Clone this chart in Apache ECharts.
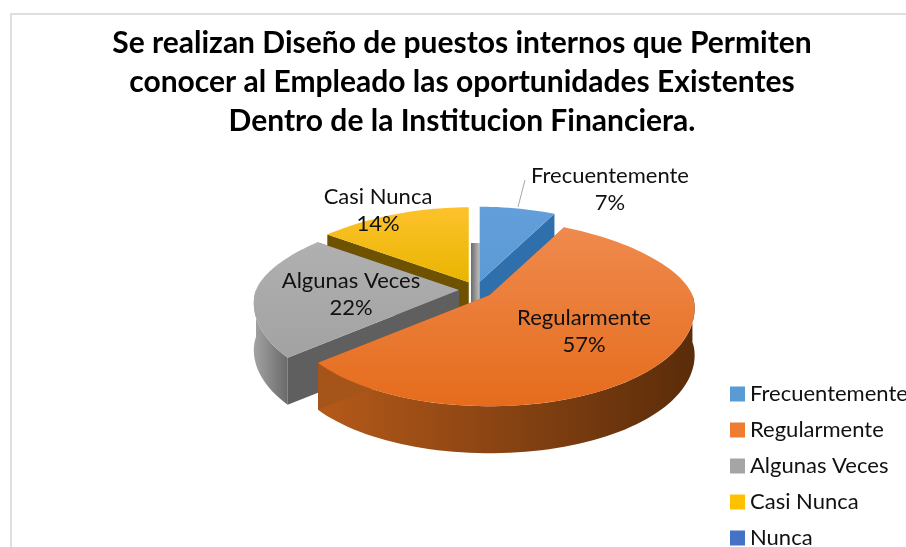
<!DOCTYPE html>
<html>
<head>
<meta charset="utf-8">
<style>
  html, body { margin: 0; padding: 0; background: #fff; overflow: hidden; }
  #chart { width: 906px; height: 547px; }
</style>
<script src="https://cdn.jsdelivr.net/npm/echarts@6/dist/echarts.min.js"></script>
</head>
<body>
<div id="chart"></div>
<script>
  const categories = ['Frecuentemente', 'Regularmente', 'Algunas Veces', 'Casi Nunca', 'Nunca']
  const values = [7, 57, 22, 14, 0]
  const legendColors = ['#5b9bd5', '#ed7d31', '#a5a5a5', '#ffc000', '#4472c4']
  const titleText = 'Se realizan Diseño de puestos internos que Permiten\nconocer al Empleado las oportunidades Existentes\nDentro de la Institucion Financiera.'

  const fontName = 'Lato'
  const center = [476, 290]
  const radiusX = 203, radiusBack = 75, radiusFront = 111
  const perspective = 0.15
  const depth = 47
  const explode = 17

  // top, cut face and outer wall colours of each slice
  const topFill = [['#639fda', '#5a9ad6'], ['#ef8a4e', '#e56c1c'], ['#b0b0b0', '#a2a2a2'], ['#fdc22c', '#e9b500']]
  const cutFill = ['#2f6fab', '#a5541a', '#5f5f5f', '#6f5200']
  const wallFill = [
    ['#3a7ab5', '#3a7ab5'],
    ['#b55a1a', '#5a2c0a'],
    ['#a3a3a3', '#6a6a6a'],
    ['#7d5d00', '#7d5d00']
  ]
  const labelPos = [[610, 189], [584, 331], [351, 294], [378, 210]]
  // back to front
  const drawOrder = [3, 0, 2, 1, 4]

  const total = values.reduce((a, b) => a + b, 0)

  function pt(apex, deg) {
    const t = deg * Math.PI / 180
    const s = Math.sin(t), c = Math.cos(t)
    return [
      apex[0] + radiusX * s * (1 - perspective * c),
      apex[1] - (c > 0 ? c * radiusBack : -Math.pow(-c, 1.1) * radiusFront)
    ]
  }

  function arc(apex, from, to) {
    const out = []
    const n = Math.max(2, Math.ceil((to - from) / 2))
    for (let i = 0; i <= n; i++) out.push(pt(apex, from + (to - from) * i / n))
    return out
  }

  const down = p => [p[0], p[1] + depth]

  function linear(x, y, x2, y2, a, b) {
    return { type: 'linear', x, y, x2, y2, colorStops: [{ offset: 0, color: a }, { offset: 1, color: b }] }
  }

  function renderSlice(idx) {
    const before = values.slice(0, idx).reduce((a, b) => a + b, 0)
    const from = before / total * 360
    const to = (before + values[idx]) / total * 360
    const mid = (from + to) / 2 * Math.PI / 180
    const apex = [center[0] + explode * Math.sin(mid), center[1] - explode * 0.5 * Math.cos(mid)]
    const rim = arc(apex, from, to)
    const children = []

    // outer wall only where the rim faces the viewer
    const wallFrom = Math.max(from, 90), wallTo = Math.min(to, 270)
    if (wallTo > wallFrom) {
      const w = arc(apex, wallFrom, wallTo)
      children.push({
        type: 'polygon',
        shape: { points: w.concat(w.map(down).reverse()) },
        style: { fill: linear(0, 0, 1, 0, wallFill[idx][0], wallFill[idx][1]) }
      })
    }
    // cut faces
    ;[from, to].forEach(a => {
      const p = pt(apex, a)
      children.push({
        type: 'polygon',
        shape: { points: [apex, p, down(p), down(apex)] },
        style: { fill: cutFill[idx] }
      })
    })
    // top
    children.push({
      type: 'polygon',
      shape: { points: [apex].concat(rim) },
      style: { fill: linear(0, 0, 0, 1, topFill[idx][0], topFill[idx][1]) }
    })
    return { type: 'group', children }
  }

  const series = categories.map((name, i) => ({
    name,
    type: 'custom',
    coordinateSystem: 'none',
    z: 2 + drawOrder.indexOf(i),
    silent: true,
    itemStyle: { color: legendColors[i] },
    data: [[values[i]]],
    renderItem: () => (values[i] > 0 ? renderSlice(i) : { type: 'group', children: [] })
  }))

  const pctLabels = categories.slice(0, 4).map((name, i) => ({
    type: 'text',
    z: 20,
    x: labelPos[i][0],
    y: labelPos[i][1],
    style: {
      text: name + '\n' + Math.round(values[i] / total * 100) + '%',
      fill: '#111',
      font: '22px ' + fontName,
      lineHeight: 27,
      align: 'center',
      verticalAlign: 'middle'
    }
  }))

  const chart = echarts.init(document.getElementById('chart'))
  chart.setOption({
    animation: false,
    backgroundColor: '#fff',
    title: {
      text: titleText,
      left: 457,
      top: 19,
      textAlign: 'center',
      textStyle: { fontFamily: fontName, fontWeight: 'bold', fontSize: 30, lineHeight: 39, color: '#000' }
    },
    legend: {
      orient: 'vertical',
      left: 730,
      top: 383,
      height: 300,
      padding: 0,
      itemWidth: 15,
      itemHeight: 15,
      itemGap: 14,
      icon: 'rect',
      selectedMode: false,
      textStyle: { fontFamily: fontName, fontSize: 22, color: '#111' },
      data: categories
    },
    series,
    graphic: [
      { type: 'polyline', z: 1, shape: { points: [[11, 560], [11, 14], [920, 14]] }, style: { stroke: '#dedede', lineWidth: 2, fill: null } },
      // sliver of the far inner wall seen through the gap between the slices
      {
        type: 'rect', z: 1,
        shape: { x: center[0] - 5, y: center[1] - depth, width: 9, height: depth + 12 },
        style: { fill: linear(0, 0, 1, 0, '#6b6b6b', '#c4c4c4') }
      },
      { type: 'line', z: 20, shape: { x1: 525, y1: 180, x2: 518, y2: 207 }, style: { stroke: '#a6a6a6', lineWidth: 1 } }
    ].concat(pctLabels)
  })
</script>
</body>
</html>
